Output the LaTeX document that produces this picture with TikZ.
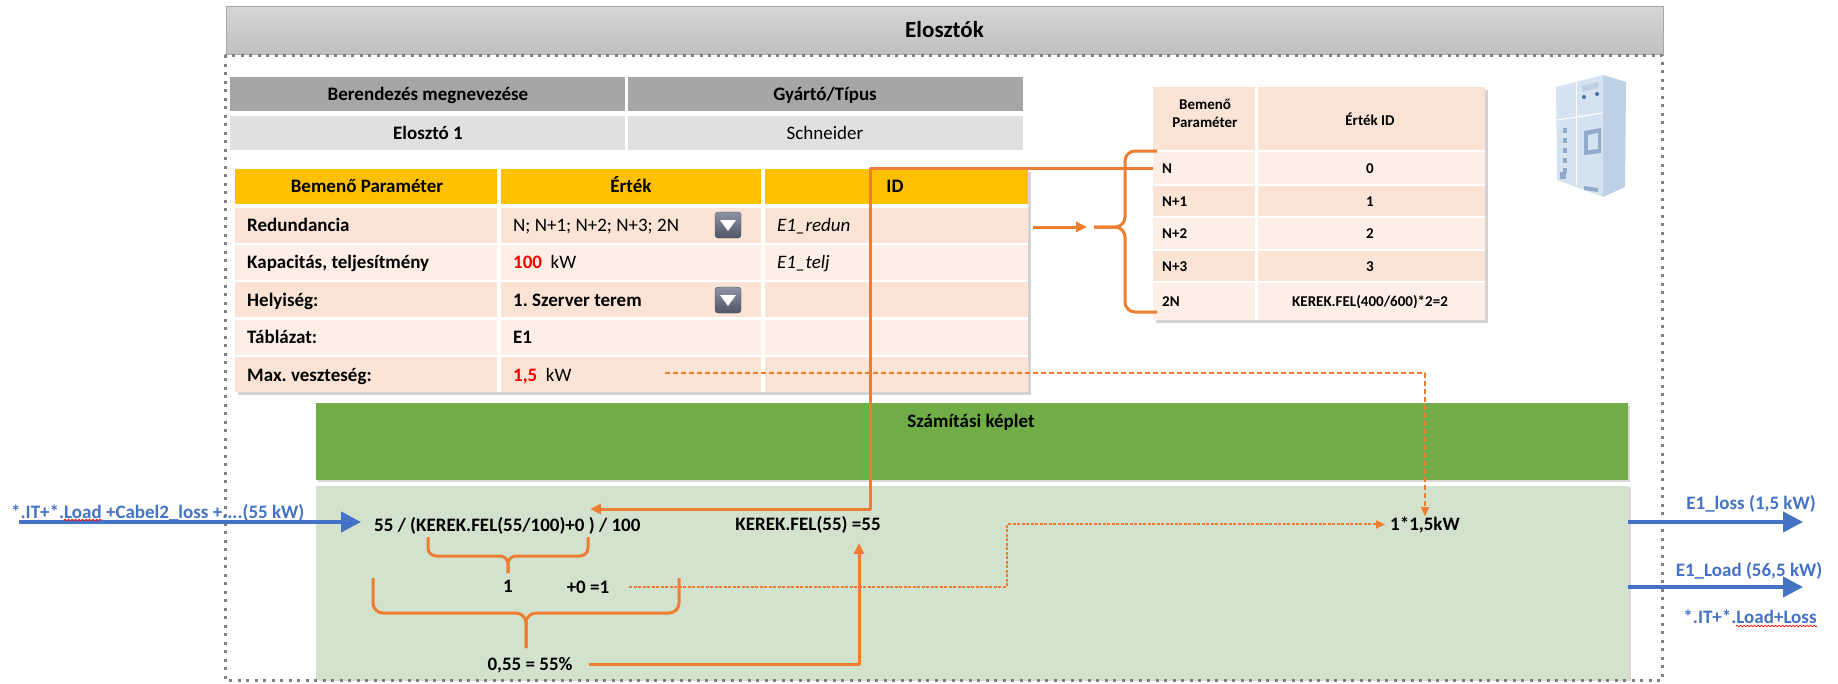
\documentclass[tikz,border=0pt]{standalone}
\usepackage{fontspec}
\setmainfont{Carlito}
\usetikzlibrary{arrows.meta,shadows,decorations.pathmorphing}

\definecolor{hdrtop}{HTML}{D6D6D6}
\definecolor{hdrbot}{HTML}{C0C0C0}
\definecolor{hdrline}{HTML}{A8A8A8}
\definecolor{tabgray}{HTML}{A6A6A6}
\definecolor{rowgray}{HTML}{E0E0E0}
\definecolor{gold}{HTML}{FFC000}
\definecolor{peach}{HTML}{FBE4D5}
\definecolor{peachlt}{HTML}{FDEFE6}
\definecolor{leaf}{HTML}{70AD47}
\definecolor{mint}{HTML}{D3E2CD}
\definecolor{orng}{HTML}{ED7D31}
\definecolor{blu}{HTML}{4472C4}
\definecolor{ddtop}{HTML}{8C93A3}
\definecolor{ddbot}{HTML}{4E5566}
\definecolor{cabA}{HTML}{D5E2EF}
\definecolor{cabB}{HTML}{BDD0E5}
\definecolor{cabC}{HTML}{8FAACB}
\definecolor{cabD}{HTML}{4A6FA0}

\tikzset{
  lbl/.style={font=\fontsize{19}{22}\selectfont\bfseries, inner sep=0pt},
  val/.style={font=\fontsize{19}{22}\selectfont, inner sep=0pt},
  idtxt/.style={font=\fontsize{19}{22}\selectfont\itshape, inner sep=0pt},
  sml/.style={font=\fontsize{15}{18}\selectfont\bfseries, inner sep=0pt},
  orline/.style={draw=orng, line width=3pt},
  ordash/.style={draw=orng, line width=1.6pt, dash pattern=on 5pt off 3pt},
  ordot/.style={draw=orng, line width=2pt, dash pattern=on 3pt off 1.5pt},
  smalltip/.style={-{Triangle[length=9pt,width=8pt]}},
  bluearrow/.style={draw=blu, line width=4pt, -{Triangle[length=20pt,width=20pt]}},
  dotframe/.style={draw=gray, line width=3pt, dash pattern=on 3pt off 5.5pt},
  squiggle/.style={draw=red, line width=0.7pt, decorate, decoration={snake, amplitude=0.8pt, segment length=3.5pt}},
  ddbox/.style={rounded corners=3pt, top color=ddtop, bottom color=ddbot, draw=ddbot},
  tabshadow/.style={drop shadow={shadow xshift=3pt, shadow yshift=-3pt, opacity=.35}}
}

\begin{document}
\frenchspacing
\begin{tikzpicture}[x=1pt,y=-1pt,line join=round,>={Triangle[length=11pt,width=10pt]}]
\useasboundingbox (0,0) rectangle (1838,683);

% title bar
\draw[hdrline, line width=1pt, top color=hdrtop, bottom color=hdrbot] (226,6) rectangle (1663,54);
\node[lbl, font=\fontsize{23}{26}\selectfont\bfseries, anchor=base] (ttl) at (944.5,37.5) {Elosztók};

% device / type
\fill[tabgray] (230,77) rectangle (625,111);
\fill[tabgray] (628,77) rectangle (1023,111);
\fill[rowgray] (230,116) rectangle (625,150);
\fill[rowgray] (628,116) rectangle (1023,150);
\node[lbl,anchor=base] (devh) at (428,100) {Berendezés megnevezése};
\node[lbl,anchor=base] (typh) at (825,100) {Gyártó/Típus};
\node[lbl,anchor=base] (dev) at (428,139) {Elosztó 1};
\node[val,anchor=base] (typ) at (825,139) {Schneider};

% input parameters
\fill[white, tabshadow] (235,169) rectangle (1028,392);
\foreach \xa/\xb in {235/497,501/761,765/1028}
  \fill[gold] (\xa,169) rectangle (\xb,203.5);
\foreach \c [count=\i from 0] in {peach,peachlt,peach,peachlt,peach}
  \foreach \xa/\xb in {235/497,501/761,765/1028}
    \fill[\c] (\xa,{207.5+37.4*\i}) rectangle (\xb,{242.5+37.4*\i});
\node[lbl,anchor=base] (ph) at (367,192) {Bemenő Paraméter};
\node[lbl,anchor=base] (vh) at (631,192) {Érték};
\node[lbl,anchor=base] (idh) at (895,192) {ID};

\node[lbl,anchor=base west] (p1) at (247,231) {Redundancia};
\node[val,anchor=base west] (v1) at (513,231) {N; N+1; N+2; N+3; 2N};
\node[idtxt,anchor=base west] (i1) at (777,231) {E1\_redun};
\node[lbl,anchor=base west] (p2) at (247,268) {Kapacitás, teljesítmény};
\node[val,anchor=base west] (v2) at (513,268) {\textcolor{red}{\bfseries 100}\ \ kW};
\node[idtxt,anchor=base west] (i2) at (777,268) {E1\_telj};
\node[lbl,anchor=base west] (p3) at (247,306) {Helyiség:};
\node[lbl,anchor=base west] (v3) at (513,306) {1. Szerver terem};
\node[lbl,anchor=base west] (p4) at (247,343) {Táblázat:};
\node[lbl,anchor=base west] (v4) at (513,343) {E1};
\node[lbl,anchor=base west] (p5) at (247,381) {Max. veszteség:};
\node[val,anchor=base west] (v5) at (513,381) {\textcolor{red}{\bfseries 1,5}\ \ kW};

\foreach \y in {225,300} {
  \draw[ddbox] (715,{\y-13}) rectangle (741,{\y+13});
  \fill[white] (720,{\y-5}) -- (736,{\y-5}) -- (728,{\y+6}) -- cycle;
}

% redundancy lookup
\fill[white, tabshadow] (1153,87) rectangle (1485,320);
\fill[peach] (1153,87) rectangle (1255,150);
\fill[peach] (1258,87) rectangle (1485,150);
\node[sml,align=center] (bp) at (1205,113) {Bemenő\\Paraméter};
\node[sml,anchor=base] (eid) at (1370,125) {Érték ID};
\foreach \ya/\yb/\c/\nm/\vl [count=\i] in {152/184/peachlt/N/0, 186/216/peach/N+1/1, 218/249/peachlt/N+2/2, 251/281/peach/N+3/3, 283/320/peachlt/2N/{KEREK.FEL(400/600)*2=2}} {
  \fill[\c] (1153,\ya) rectangle (1255,\yb);
  \fill[\c] (1258,\ya) rectangle (1485,\yb);
  \node[sml,anchor=base west] (r\i) at (1162,{(\ya+\yb)/2+5}) {\nm};
  \node[sml,anchor=base] (e\i) at (1370,{(\ya+\yb)/2+5}) {\vl};
}

% cabinet
\fill[cabA] (1556,87) -- (1603,75) -- (1603,197) -- (1557,180) -- cycle;
\fill[cabB] (1603,75) -- (1626,82) -- (1625,187) -- (1603,197) -- cycle;
\draw[white, line width=1pt] (1576,82) -- (1576,186);
\draw[white, line width=1pt] (1557,120) -- (1603,113);
\fill[cabB] (1582,86) -- (1598,82) -- (1598,88) -- (1582,92) -- cycle;
\fill[cabD] (1584,97) circle (2pt) (1597,94) circle (2pt);
\fill[cabC] (1584,131) -- (1601,128) -- (1601,153) -- (1584,155) -- cycle;
\fill[cabA] (1588,135) -- (1598,133) -- (1598,149) -- (1588,150) -- cycle;
\foreach \y in {128,138,...,168}
  \fill[cabC] (1563,\y) rectangle (1567,{\y+5});
\fill[cabC] (1560,172) rectangle (1566,179);
\fill[cabC] (1584,186) -- (1598,188) -- (1598,192) -- (1584,190) -- cycle;

% calculation
\fill[leaf, drop shadow={shadow xshift=2pt, shadow yshift=-2pt, opacity=.3}] (316,403) rectangle (1628,480);
\node[lbl,anchor=base] (calch) at (971,427) {Számítási képlet};
\fill[mint, drop shadow={shadow xshift=3pt, shadow yshift=-1pt, opacity=.3}] (316,486) rectangle (1628,680);

\draw[dotframe] (225,55) rectangle (1662,680);

\node[lbl,anchor=base west] (frm) at (374,531) {55 / (KEREK.FEL(55/100)+0 ) / 100};
\node[lbl,anchor=base] (kf) at (808,530) {KEREK.FEL(55) =55};
\node[lbl,anchor=base] (res) at (1425,530) {1*1,5kW};
\node[lbl,anchor=base] (one) at (508,592) {1};
\node[lbl,anchor=base] (pz) at (588,593) {+0 =1};
\node[lbl,anchor=base] (pct) at (530,670) {0,55 = 55\%};

\draw[orline,rounded corners=8pt] (428,537) |- (508,556) -- (508,573);
\draw[orline,rounded corners=8pt] (588,537) |- (508,556) -- (508,573);
\draw[orline,rounded corners=10pt] (373,578) |- (526,613) -- (526,648);
\draw[orline,rounded corners=10pt] (679,578) |- (526,613) -- (526,648);

% connectors
\coordinate (nrow) at (1153,168);
\coordinate (bendA) at (870,509);
\coordinate (frmTip) at (590,509);
\draw[orline,->] (nrow) -| (bendA) -- (frmTip);

\coordinate (redOut) at (1033,227);
\coordinate (brTip) at (1094,227);
\draw[orline,->,shorten >=7pt] (redOut) -- (brTip);
\draw[orline,rounded corners=10pt] (1157,151) -| (1125,227) -- (brTip);
\draw[orline,rounded corners=10pt] (1157,312) -| (1125,227) -- (brTip);

\coordinate (vszt) at (665,373);
\draw[ordash,smalltip] (vszt) -| (res.north);

\coordinate (bendB) at (1007,587);
\draw[ordot,smalltip,shorten <=20pt,shorten >=5pt] (pz.east) -- (pz.east -| bendB) |- (res.west);

\coordinate (kfIn) at (859,543);
\draw[orline,->,shorten <=16pt] (pct.east) -| (kfIn);

% flows in and out
\coordinate (inSrc) at (19,522);
\draw[bluearrow,shorten >=13pt] (inSrc) -- (inSrc -| frm.west);
\node[lbl,text=blu,anchor=base west] (inlbl) at (11,518) {*.IT+*.Load +Cabel2\_loss +....(55 kW)};

\coordinate (lossA) at (1628,522);
\coordinate (lossB) at (1803,522);
\coordinate (loadA) at (1628,587);
\coordinate (loadB) at (1803,587);
\draw[bluearrow] (lossA) -- (lossB);
\draw[bluearrow] (loadA) -- (loadB);
\node[lbl,text=blu,anchor=base] (losslbl) at (1751,509) {E1\_loss (1,5 kW)};
\node[lbl,text=blu,anchor=base] (loadlbl) at (1749,576) {E1\_Load (56,5 kW)};
\node[lbl,text=blu,anchor=base] (sumlbl) at (1750,623) {*.IT+*.Load+Loss};

\draw[squiggle] (64,520) -- (102,520);
\draw[squiggle] (1736,626) -- (1817,626);
\end{tikzpicture}
\end{document}
